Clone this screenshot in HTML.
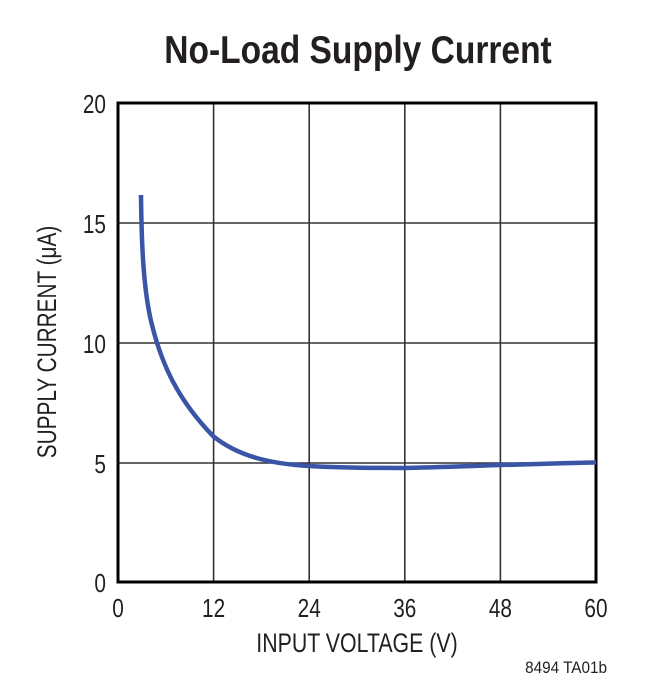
<!DOCTYPE html>
<html><head><style>
body{margin:0;background:#fff;}
svg text{font-family:"Liberation Sans",sans-serif;fill:#231f20;}
</style></head><body>
<svg width="652" height="690" xmlns="http://www.w3.org/2000/svg">
<rect width="652" height="690" fill="#fff"/>
<text transform="translate(358,63) scale(0.86,1)" font-size="39" font-weight="bold" text-anchor="middle">No-Load Supply Current</text>
<g stroke="#333" stroke-width="1.6">
<line x1="213.6" y1="103" x2="213.6" y2="582"/>
<line x1="309.2" y1="103" x2="309.2" y2="582"/>
<line x1="404.8" y1="103" x2="404.8" y2="582"/>
<line x1="500.4" y1="103" x2="500.4" y2="582"/>
<line x1="118" y1="223" x2="596" y2="223"/>
<line x1="118" y1="343" x2="596" y2="343"/>
<line x1="118" y1="463" x2="596" y2="463"/>
</g>
<rect x="118" y="103" width="478" height="479" fill="none" stroke="#000" stroke-width="3"/>
<path fill="none" stroke="#3a55a6" stroke-width="4.5"
d="M141,195 C141.5,240 143,290 152,325 C162,365 178,400 213,436 C240,458 275,464 309,466 C340,468 380,468 404,468 C450,467 520,464 596,462.5"/>
<g font-size="26" text-anchor="end">
<text transform="translate(106,113) scale(0.8,1)">20</text>
<text transform="translate(106,233) scale(0.8,1)">15</text>
<text transform="translate(106,353) scale(0.8,1)">10</text>
<text transform="translate(106,473) scale(0.8,1)">5</text>
<text transform="translate(106,592) scale(0.8,1)">0</text>
</g>
<g font-size="26" text-anchor="middle">
<text transform="translate(118,617) scale(0.8,1)">0</text>
<text transform="translate(213.6,617) scale(0.8,1)">12</text>
<text transform="translate(309.2,617) scale(0.8,1)">24</text>
<text transform="translate(404.8,617) scale(0.8,1)">36</text>
<text transform="translate(500.4,617) scale(0.8,1)">48</text>
<text transform="translate(596,617) scale(0.8,1)">60</text>
<text transform="translate(357,652) scale(0.79,1)" font-size="27">INPUT VOLTAGE (V)</text>
<text transform="translate(56,342) rotate(-90) scale(0.77,1)" font-size="27">SUPPLY CURRENT (μA)</text>
</g>
<text transform="translate(607,673) scale(0.9,1)" font-size="17" text-anchor="end">8494 TA01b</text>
</svg>
</body></html>
